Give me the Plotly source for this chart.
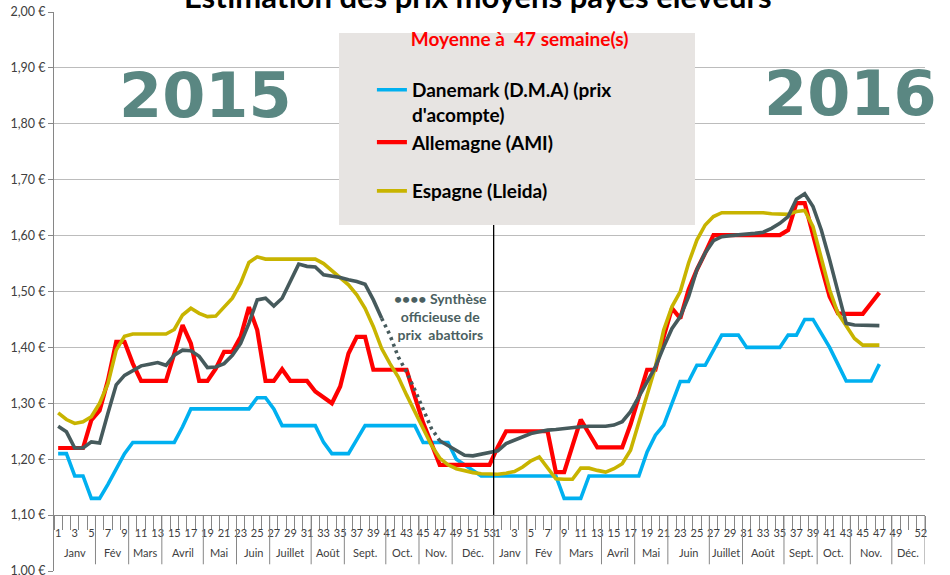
import plotly.graph_objects as go

# ---------------- data ----------------
weeks_2015 = list(range(1, 54))
weeks_2016 = list(range(1, 53))

danemark_2015 = [1.21, 1.21, 1.17, 1.17, 1.13, 1.13, 1.155, 1.183, 1.21, 1.23,
                 1.23, 1.23, 1.23, 1.23, 1.23, 1.258, 1.29, 1.29, 1.29, 1.29,
                 1.29, 1.29, 1.29, 1.29, 1.31, 1.31, 1.29, 1.26, 1.26, 1.26,
                 1.26, 1.26, 1.23, 1.21, 1.21, 1.21, 1.235, 1.26, 1.26, 1.26,
                 1.26, 1.26, 1.26, 1.26, 1.23, 1.23, 1.23, 1.23, 1.20, 1.19,
                 1.18, 1.17, 1.17]
danemark_2016 = [1.17, 1.17, 1.17, 1.17, 1.17, 1.17, 1.17, 1.17, 1.13, 1.13,
                 1.13, 1.17, 1.17, 1.17, 1.17, 1.17, 1.17, 1.17, 1.213, 1.243,
                 1.261, 1.30, 1.339, 1.339, 1.368, 1.368, 1.395, 1.422, 1.422, 1.422,
                 1.40, 1.40, 1.40, 1.40, 1.40, 1.422, 1.422, 1.45, 1.45, 1.425,
                 1.40, 1.37, 1.34, 1.34, 1.34, 1.34, 1.37]

allemagne_2015 = [1.22, 1.22, 1.22, 1.22, 1.27, 1.287, 1.341, 1.41, 1.41, 1.371,
                  1.34, 1.34, 1.34, 1.34, 1.389, 1.44, 1.407, 1.34, 1.34, 1.362,
                  1.392, 1.392, 1.419, 1.472, 1.431, 1.34, 1.34, 1.361, 1.34, 1.34,
                  1.34, 1.321, 1.31, 1.30, 1.33, 1.389, 1.419, 1.419, 1.36, 1.36,
                  1.36, 1.36, 1.36, 1.312, 1.265, 1.228, 1.19, 1.19, 1.19, 1.19,
                  1.19, 1.19, 1.19]
allemagne_2016 = [1.222, 1.25, 1.25, 1.25, 1.25, 1.25, 1.25, 1.177, 1.177, 1.224,
                  1.271, 1.246, 1.221, 1.221, 1.221, 1.221, 1.262, 1.31, 1.36, 1.36,
                  1.419, 1.47, 1.452, 1.503, 1.539, 1.569, 1.601, 1.601, 1.601, 1.601,
                  1.601, 1.601, 1.601, 1.601, 1.601, 1.61, 1.658, 1.658, 1.598, 1.545,
                  1.491, 1.461, 1.46, 1.46, 1.46, 1.479, 1.498]

espagne_2015 = [1.283, 1.271, 1.264, 1.267, 1.276, 1.30, 1.335, 1.395, 1.42, 1.424,
                1.424, 1.424, 1.424, 1.424, 1.432, 1.458, 1.47, 1.461, 1.455, 1.456,
                1.472, 1.488, 1.515, 1.552, 1.562, 1.558, 1.558, 1.558, 1.558, 1.558,
                1.558, 1.558, 1.55, 1.538, 1.524, 1.512, 1.494, 1.47, 1.437, 1.398,
                1.371, 1.347, 1.315, 1.285, 1.257, 1.225, 1.202, 1.19, 1.183, 1.179,
                1.176, 1.174, 1.173]
espagne_2016 = [1.173, 1.175, 1.178, 1.186, 1.197, 1.204, 1.184, 1.165, 1.164, 1.164,
                1.184, 1.184, 1.18, 1.177, 1.183, 1.192, 1.216, 1.264, 1.312, 1.365,
                1.431, 1.473, 1.50, 1.551, 1.592, 1.619, 1.634, 1.641, 1.641, 1.641,
                1.641, 1.641, 1.641, 1.639, 1.638, 1.638, 1.643, 1.645, 1.616, 1.557,
                1.503, 1.461, 1.437, 1.416, 1.404, 1.404, 1.404]

synthese_2015 = [1.259, 1.249, 1.22, 1.22, 1.231, 1.229, 1.282, 1.333, 1.35, 1.359,
                 1.367, 1.37, 1.373, 1.368, 1.386, 1.395, 1.394, 1.384, 1.364, 1.365,
                 1.371, 1.386, 1.407, 1.443, 1.485, 1.488, 1.474, 1.488, 1.518, 1.549,
                 1.545, 1.544, 1.53, 1.528, 1.525, 1.521, 1.518, 1.513, 1.485, 1.452,
                 1.422, 1.383, 1.356, 1.324, 1.288, 1.255, 1.233, 1.224, 1.215, 1.207,
                 1.206, 1.209, 1.211]
synthese_2016 = [1.215, 1.228, 1.234, 1.24, 1.246, 1.249, 1.252, 1.253, 1.255, 1.256,
                 1.258, 1.259, 1.259, 1.259, 1.261, 1.267, 1.285, 1.312, 1.336, 1.365,
                 1.401, 1.434, 1.455, 1.491, 1.539, 1.569, 1.591, 1.598, 1.60, 1.601,
                 1.603, 1.604, 1.606, 1.613, 1.622, 1.634, 1.665, 1.675, 1.652, 1.61,
                 1.557, 1.497, 1.443, 1.44, 1.44, 1.44, 1.439]
# 2015 weeks of the dotted ("synthèse officieuse") part of the grey line
synthese_dotted_weeks_2015 = [40, 47]

month_names = ["Janv", "Fév", "Mars", "Avril", "Mai", "Juin", "Juillet",
               "Août", "Sept.", "Oct.", "Nov.", "Déc."]
month_weeks_2015 = [5, 4, 4, 5, 4, 4, 5, 4, 5, 4, 4, 5]
month_weeks_2016 = [4, 4, 5, 4, 4, 5, 4, 5, 4, 4, 5, 4]

week_labels_2015 = [w for w in weeks_2015 if w % 2 == 1]
week_labels_2016 = [w for w in weeks_2016 if w % 2 == 1 and w <= 49] + [52]

y_ticks = [1.0, 1.1, 1.2, 1.3, 1.4, 1.5, 1.6, 1.7, 1.8, 1.9, 2.0]
y_tick_labels = ["1,00 €", "1,10 €", "1,20 €", "1,30 €", "1,40 €", "1,50 €",
                 "1,60 €", "1,70 €", "1,80 €", "1,90 €", "2,00 €"]

legend_title = "Moyenne à\u00a0 47 semaine(s)"
series_names = ["Danemark (D.M.A) (prix<br>d'acompte)", "Allemagne (AMI)", "Espagne (Lleida)"]

# ---------------- build ----------------
n15, n16 = len(weeks_2015), len(weeks_2016)
x_all = list(range(n15 + n16))


def full(a15, a16):
    return a15 + a16 + [None] * (n16 - len(a16))


FONT = "Lato"
AXIS_GREY = "#868686"
TXT = "#404040"

fig = go.Figure()

colors = ["#00B0F0", "#FF0000", "#C8B400"]
widths = [3.6, 4.2, 3.6]
groups = ["a", "a", "b"]
for name, a15, a16, col, w, g in zip(series_names,
                                     [danemark_2015, allemagne_2015, espagne_2015],
                                     [danemark_2016, allemagne_2016, espagne_2016],
                                     colors, widths, groups):
    fig.add_trace(go.Scatter(x=x_all, y=full(a15, a16), mode="lines", name=name,
                             legendgroup=g,
                             line=dict(color=col, width=w), hoverinfo="skip"))

syn = full(synthese_2015, synthese_2016)
d0, d1 = synthese_dotted_weeks_2015[0] - 1, synthese_dotted_weeks_2015[1] - 1
GREY = "#465A5C"
fig.add_trace(go.Scatter(x=x_all[:d0 + 1], y=syn[:d0 + 1], mode="lines", showlegend=False,
                         line=dict(color=GREY, width=3.6), hoverinfo="skip"))
fig.add_trace(go.Scatter(x=x_all[d0:d1 + 1], y=syn[d0:d1 + 1], mode="lines", showlegend=False,
                         line=dict(color=GREY, width=3.6, dash="3px,4px"), hoverinfo="skip"))
fig.add_trace(go.Scatter(x=x_all[d1:], y=syn[d1:], mode="lines", showlegend=False,
                         line=dict(color=GREY, width=3.6), hoverinfo="skip"))

# tick positions for week labels
tickvals = [weeks_2015.index(w) for w in week_labels_2015] + \
           [n15 + weeks_2016.index(w) for w in week_labels_2016]
ticktext = [str(w) for w in week_labels_2015] + [str(w) for w in week_labels_2016]

shapes = []
annotations = []

# month dividers & month labels
for offset, counts in [(0, month_weeks_2015), (n15, month_weeks_2016)]:
    start = offset
    for name, c in zip(month_names, counts):
        end = start + c
        annotations.append(dict(x=(start + end - 1) / 2, y=1.033, xref="x", yref="y",
                                text=name, showarrow=False,
                                font=dict(family=FONT, size=11, color=TXT)))
        shapes.append(dict(type="line", xref="x", yref="y", x0=end - 0.5, x1=end - 0.5,
                           y0=1.10, y1=1.012, line=dict(color=AXIS_GREY, width=1)))
        start = end

# year separator
shapes.append(dict(type="line", xref="x", yref="y", x0=n15 - 0.5, x1=n15 - 0.5,
                   y0=1.10, y1=1.80, line=dict(color="black", width=1.3)))

# legend box
shapes.append(dict(type="rect", xref="paper", yref="paper", x0=0.3272, x1=0.7359,
                   y0=0.619, y1=0.9624, fillcolor="#E7E4E2", line=dict(width=0),
                   layer="above"))

# big year labels
for txt, xp, yp in [("2015", 0.1734, 0.8515), ("2016", 0.9139, 0.855)]:
    annotations.append(dict(x=xp, y=yp, xref="paper", yref="paper", text=txt,
                            xanchor="center", yanchor="middle", showarrow=False,
                            font=dict(family="DejaVu Sans", size=62, color="#5A8782",
                                      weight="bold")))

annotations.append(dict(x=0.4432, y=0.4544, xref="paper", yref="paper",
                        xanchor="center", yanchor="middle",
                        text="•••• Synthèse<br>officieuse de<br>prix\u00a0 abattoirs",
                        showarrow=False, align="center",
                        font=dict(family=FONT, size=14, color="#4B5F61", weight="bold")))

annotations.append(dict(x=0.4868, y=1.0295, xref="paper", yref="paper",
                        text="Estimation des prix moyens payés éleveurs",
                        showarrow=False, xanchor="center", yanchor="middle",
                        font=dict(family=FONT, size=31, color="black", weight="bold")))

fig.update_layout(
    width=950, height=575,
    margin=dict(l=54, r=25, t=12, b=4, autoexpand=False),
    paper_bgcolor="white", plot_bgcolor="white",
    showlegend=True,
    legend=dict(x=0.365, xanchor="left", y=0.983, yanchor="top",
                bgcolor="rgba(0,0,0,0)", valign="top",
                traceorder="grouped", tracegroupgap=21,
                font=dict(family=FONT, size=19, color="black", weight="bold"),
                title=dict(text="\u00a0" * 8 + legend_title + "<br> ",
                           font=dict(family=FONT, size=19, color="#FF0000", weight="bold"))),
    xaxis=dict(range=[-0.5, n15 + n16 - 0.5], anchor="free", position=0.1,
               automargin=False,
               showgrid=False, zeroline=False, showline=True, linecolor=AXIS_GREY,
               linewidth=1, tickmode="array", tickvals=tickvals, ticktext=ticktext,
               tickangle=0, ticks="", ticklabelstandoff=8,
               tickfont=dict(family=FONT, size=11, color=TXT),
               minor=dict(tick0=-0.5, dtick=1, ticks="outside", ticklen=14,
                          tickcolor=AXIS_GREY, tickwidth=1, showgrid=False)),
    yaxis=dict(range=[1.0, 2.0], tickmode="array", tickvals=y_ticks, ticktext=y_tick_labels,
               automargin=False, ticklabeloverflow="allow",
               showgrid=True, gridcolor="#BCBCBC", gridwidth=1, zeroline=False,
               showline=True, linecolor=AXIS_GREY, ticks="outside", ticklen=5,
               tickcolor=AXIS_GREY, tickfont=dict(family=FONT, size=12.5, color=TXT)),
    shapes=shapes, annotations=annotations,
)

fig.write_html("out.html", config={"displayModeBar": False},
               post_script="document.body.style.margin='0';")
